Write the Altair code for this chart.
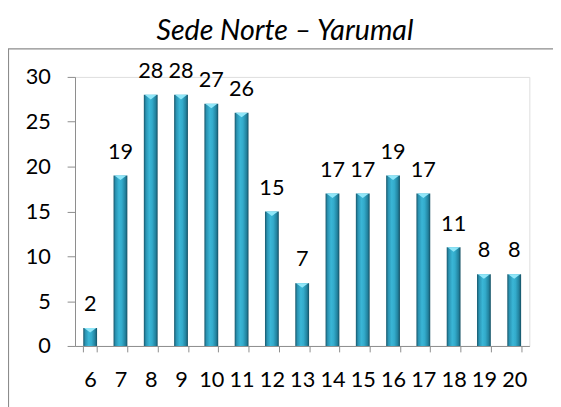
import altair as alt
import pandas as pd

categories = ["6", "7", "8", "9", "10", "11", "12", "13", "14", "15", "16", "17", "18", "19", "20"]
values = [2, 19, 28, 28, 27, 26, 15, 7, 17, 17, 19, 17, 11, 8, 8]
title_text = ["Sede Norte \u2013 Yarumal"]
y_ticks = [0, 5, 10, 15, 20, 25, 30]

df = pd.DataFrame({"cat": categories, "val": values})

FONT = "Lato"
AXIS_COLOR = "#8c8c8c"
FS = 22

x_enc = alt.X(
    "cat:N",
    sort=categories,
    title=None,
    scale=alt.Scale(paddingInner=0.544, paddingOuter=0.272),
    axis=alt.Axis(
        labelAngle=0,
        labelFont=FONT,
        labelFontSize=FS,
        labelColor="#000000",
        labelPadding=18,
        tickBand="extent",
        tickSize=6,
        tickColor=AXIS_COLOR,
        domainColor=AXIS_COLOR,
        labelBaseline="top",
        grid=False,
    ),
)
y_enc = alt.Y(
    "val:Q",
    title=None,
    scale=alt.Scale(domain=[0, 30], nice=False),
    axis=alt.Axis(
        values=y_ticks,
        labelFont=FONT,
        labelFontSize=FS,
        labelColor="#000000",
        labelPadding=17,
        tickSize=8,
        tickColor=AXIS_COLOR,
        domainColor=AXIS_COLOR,
        grid=False,
    ),
)

base = alt.Chart(df)

gradient = alt.LinearGradient(
    gradient="linear",
    x1=0, x2=1, y1=0, y2=0,
    stops=[
        alt.GradientStop(offset=0, color="#17566a"),
        alt.GradientStop(offset=0.15, color="#2a93b2"),
        alt.GradientStop(offset=0.4, color="#3ab6d6"),
        alt.GradientStop(offset=0.6, color="#33abcb"),
        alt.GradientStop(offset=0.85, color="#22829e"),
        alt.GradientStop(offset=1, color="#144f62"),
    ],
)

bars = base.mark_bar(color=gradient).encode(x=x_enc, y=y_enc)

caps = base.mark_point(
    shape="M-1,0L1,0L0,0.75Z",
    filled=True,
    color="#8fe6f8",
    opacity=1,
    strokeWidth=0,
    size=150,
).encode(x=x_enc, y=y_enc)

labels = base.mark_text(
    font=FONT, fontSize=FS, color="#000000", baseline="alphabetic", dy=-17
).encode(x=x_enc, y=y_enc, text="val:Q")

border = alt.Chart(pd.DataFrame({"k": [0]})).mark_rect(
    fillOpacity=0, stroke="#8c8c8c", strokeWidth=1.2
).encode(
    x=alt.value(-67.5), x2=alt.value(700), y=alt.value(-28.5), y2=alt.value(500)
)

title = alt.Chart(pd.DataFrame({"t": title_text})).mark_text(
    font=FONT, fontSize=29, fontStyle="italic", color="#000000",
    baseline="alphabetic", align="center"
).encode(x=alt.value(213), y=alt.value(-37), text="t:N")

chart = alt.layer(border, bars, caps, labels, title).properties(
    width=461,
    height=273,
    autosize=alt.AutoSizeParams(type="none"),
    padding={"left": 68, "top": 67, "right": 24, "bottom": 59},
).configure_view(stroke=None).configure(background="white")

chart.save("out.html", embed_options={"renderer": "svg", "actions": False})
